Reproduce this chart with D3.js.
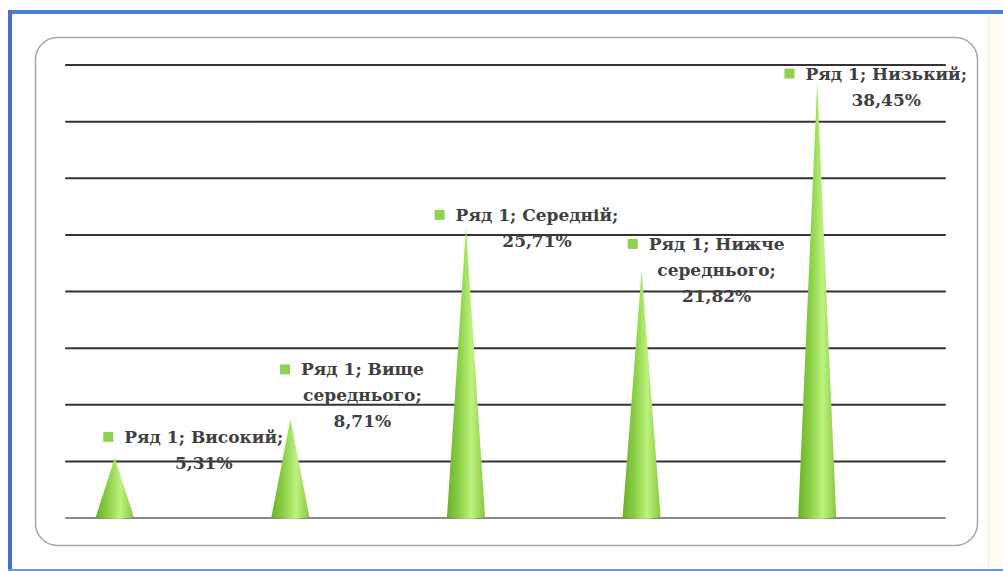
<!DOCTYPE html>
<html>
<head>
<meta charset="utf-8">
<script src="https://cdn.jsdelivr.net/npm/d3@7"></script>
<style>
  html, body { margin: 0; padding: 0; background: #fff; }
  svg { display: block; }
</style>
</head>
<body>
<div id="chart"></div>
<script>
// Дані діаграми
const series = "Ряд 1";
const categories = ["Високий", "Вище середнього", "Середній", "Нижче середнього", "Низький"];
const values = [5.31, 8.71, 25.71, 21.82, 38.45];
const yTicks = [0, 5, 10, 15, 20, 25, 30, 35, 40];

// Зсуви підписів (dx, dy) відносно вершини конуса
const labelNudge = [[89, -21], [72, -50], [71, -12], [75, -27], [69, -9]];

const width = 1003;
const height = 571;
const plotLeft = 66, plotRight = 945, plotTop = 65, plotBottom = 518;

const svg = d3.select("#chart").append("svg")
    .attr("width", width)
    .attr("height", height)
    .attr("viewBox", [0, 0, width, height]);

// Градієнт для конусів
const defs = svg.append("defs");
const grad = defs.append("linearGradient")
    .attr("id", "coneGrad")
    .attr("x1", "0%").attr("x2", "100%").attr("y1", "0%").attr("y2", "0%");
grad.append("stop").attr("offset", "0%").attr("stop-color", "#6cb02a");
grad.append("stop").attr("offset", "35%").attr("stop-color", "#8fd24a");
grad.append("stop").attr("offset", "65%").attr("stop-color", "#bdf27e");
grad.append("stop").attr("offset", "100%").attr("stop-color", "#86c940");

// Фон праворуч
svg.append("rect")
    .attr("x", 988).attr("y", 14).attr("width", 15).attr("height", 555)
    .attr("fill", "#fffcf3");
svg.append("line")
    .attr("x1", 988.5).attr("x2", 988.5).attr("y1", 14).attr("y2", 568)
    .attr("stroke", "#f3eee2").attr("stroke-width", 1);

// Синя рамка
svg.append("line")
    .attr("x1", 8).attr("x2", width).attr("y1", 12).attr("y2", 12)
    .attr("stroke", "#4f7fd0").attr("stroke-width", 4);
svg.append("line")
    .attr("x1", 10).attr("x2", 10).attr("y1", 10).attr("y2", height)
    .attr("stroke", "#4472c4").attr("stroke-width", 4);
svg.append("line")
    .attr("x1", 8).attr("x2", width).attr("y1", 570).attr("y2", 570)
    .attr("stroke", "#6f95d8").attr("stroke-width", 2);

// Заокруглена рамка області діаграми
svg.append("rect")
    .attr("x", 35.5).attr("y", 37.5)
    .attr("width", 942).attr("height", 508)
    .attr("rx", 22).attr("ry", 22)
    .attr("fill", "#fff")
    .attr("stroke", "#a6a6a6").attr("stroke-width", 1.5);

// Шкали
const x = d3.scaleBand()
    .domain(categories)
    .range([27, 905]);

const y = d3.scaleLinear()
    .domain([0, 40])
    .range([plotBottom, plotTop]);

// Сітка
svg.append("g")
  .selectAll("line")
  .data(yTicks)
  .join("line")
    .attr("x1", plotLeft)
    .attr("x2", plotRight)
    .attr("y1", d => y(d))
    .attr("y2", d => y(d))
    .attr("stroke", d => d === 0 ? "#8a8a8a" : "#333")
    .attr("stroke-width", 2)
    .attr("stroke-linecap", "round");

// Конуси
const coneHalf = 19;
svg.append("g")
  .selectAll("path")
  .data(values)
  .join("path")
    .attr("d", (d, i) => {
        const cx = x(categories[i]) + x.bandwidth() / 2;
        const top = y(d);
        const base = y(0);
        return `M${cx},${top} L${cx + coneHalf},${base - 1} Q${cx},${base + 3} ${cx - coneHalf},${base - 1} Z`;
    })
    .attr("fill", "url(#coneGrad)");

// Підписи даних
const fontSize = 17;
const lineH = 26;
const maxW = 176;

const labels = svg.append("g")
    .attr("font-family", "'DejaVu Serif', serif")
    .attr("font-weight", "bold")
    .attr("font-size", fontSize)
    .attr("fill", "#404040");

values.forEach((v, i) => {
    const cx = x(categories[i]) + x.bandwidth() / 2 + labelNudge[i][0];
    const cy = y(v) + labelNudge[i][1];
    const words = `${series}; ${categories[i]};`.split(" ");

    // перенос слів за шириною
    const lines = [];
    let cur = "";
    const probe = labels.append("text");
    words.forEach(w => {
        const t = cur ? cur + " " + w : w;
        probe.text(t);
        if (probe.node().getComputedTextLength() > maxW && cur) {
            lines.push(cur);
            cur = w;
        } else {
            cur = t;
        }
    });
    lines.push(cur);
    probe.remove();
    lines.push(d3.format(".2f")(v).replace(".", ",") + "%");

    lines.forEach((ln, k) => {
        const t = labels.append("text")
            .attr("x", cx)
            .attr("y", cy + k * lineH)
            .attr("dy", "0.35em")
            .attr("text-anchor", "middle")
            .text(ln);
        if (k === 0) {
            const w = t.node().getComputedTextLength();
            svg.append("rect")
                .attr("x", cx - w / 2 - 21)
                .attr("y", cy - 5)
                .attr("width", 10)
                .attr("height", 10)
                .attr("fill", "#92d050");
        }
    });
});
</script>
</body>
</html>
